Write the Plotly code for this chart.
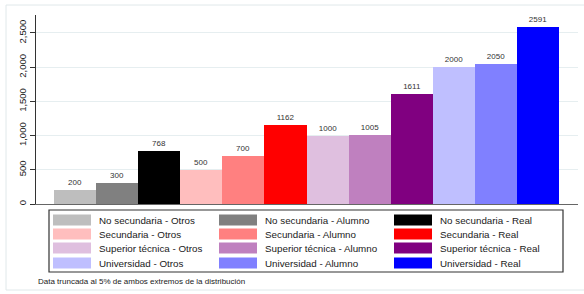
import plotly.graph_objects as go

# ---- data ----
niveles = ["No secundaria", "Secundaria", "Superior técnica", "Universidad"]
grupos = ["Otros", "Alumno", "Real"]
valores = [200, 300, 768, 500, 700, 1162, 1000, 1005, 1611, 2000, 2050, 2591]
colores = ["#BEBEBE", "#808080", "#000000",
           "#FFBEBE", "#FF8080", "#FF0000",
           "#DFBFDF", "#BF80BF", "#800080",
           "#BFBFFF", "#8080FF", "#0000FF"]
etiquetas = [f"{n} - {g}" for n in niveles for g in grupos]
y_ticks = [0, 500, 1000, 1500, 2000, 2500]
nota = "Data truncada al 5% de ambos extremos de la distribución"

W, H = 584, 294
ML, MR, MT, MB = 36, 6, 15, 90
PW, PH = W - ML - MR, H - MT - MB
FONT = "Liberation Sans, Arial, sans-serif"


def px(x):
    return (x - ML) / PW


def py(y):
    return 1 - (y - MT) / PH


fig = go.Figure()
fig.add_trace(go.Bar(
    x=list(range(len(valores))), y=valores, width=1,
    marker=dict(color=colores, line=dict(width=0)),
    text=[str(v) for v in valores], textposition="outside",
    textfont=dict(size=8, color="#333333", family=FONT),
    cliponaxis=False, showlegend=False, hoverinfo="skip",
))

shapes = []
annotations = []
# outer faint frame
shapes.append(dict(type="rect", xref="paper", yref="paper",
                   x0=px(6), x1=px(600), y0=py(290), y1=py(5),
                   line=dict(color="#E0E8EA", width=1), fillcolor="rgba(0,0,0,0)",
                   layer="below"))
# legend box
shapes.append(dict(type="rect", xref="paper", yref="paper",
                   x0=px(49), x1=px(563), y0=py(272), y1=py(210),
                   line=dict(color="#333333", width=1.2), fillcolor="white"))
col_x = [53, 219, 394]
row_y = [220, 234, 248, 263]
for i, lab in enumerate(etiquetas):
    r, c = divmod(i, 3)
    x0 = col_x[c]
    yc = row_y[r]
    shapes.append(dict(type="rect", xref="paper", yref="paper",
                       x0=px(x0), x1=px(x0 + 38), y0=py(yc + 5.5), y1=py(yc - 5.5),
                       line=dict(width=0), fillcolor=colores[i]))
    annotations.append(dict(xref="paper", yref="paper", x=px(x0 + 44), y=py(yc),
                            xanchor="left", yanchor="middle", text=lab, showarrow=False,
                            font=dict(size=9.8, color="#1a1a1a", family=FONT)))
annotations.append(dict(xref="paper", yref="paper", x=px(36), y=py(281),
                        xanchor="left", yanchor="middle", text=nota, showarrow=False,
                        font=dict(size=8, color="#1a1a1a", family=FONT)))

fig.update_layout(
    width=W, height=H,
    margin=dict(l=ML, r=MR, t=MT, b=MB, pad=0),
    paper_bgcolor="white", plot_bgcolor="white",
    font=dict(family=FONT, color="#1a1a1a"),
    shapes=shapes, annotations=annotations,
    xaxis=dict(range=[-0.928, 11.952], showticklabels=False, ticks="",
               showgrid=False, zeroline=False, showline=True,
               linecolor="#666666", linewidth=1),
    yaxis=dict(range=[0, 2763], tickvals=y_ticks, tickformat=",d",
               tickangle=-90, ticks="outside", ticklen=5, tickcolor="#333333",
               tickfont=dict(size=9.5, color="#1a1a1a", family=FONT),
               showgrid=True, gridcolor="#E6EEF0", gridwidth=1,
               zeroline=False, showline=True, linecolor="#333333", linewidth=1),
    bargap=0,
)

fig.write_html("out.html", config={"displayModeBar": False},
               post_script="document.body.style.margin='0px';")
